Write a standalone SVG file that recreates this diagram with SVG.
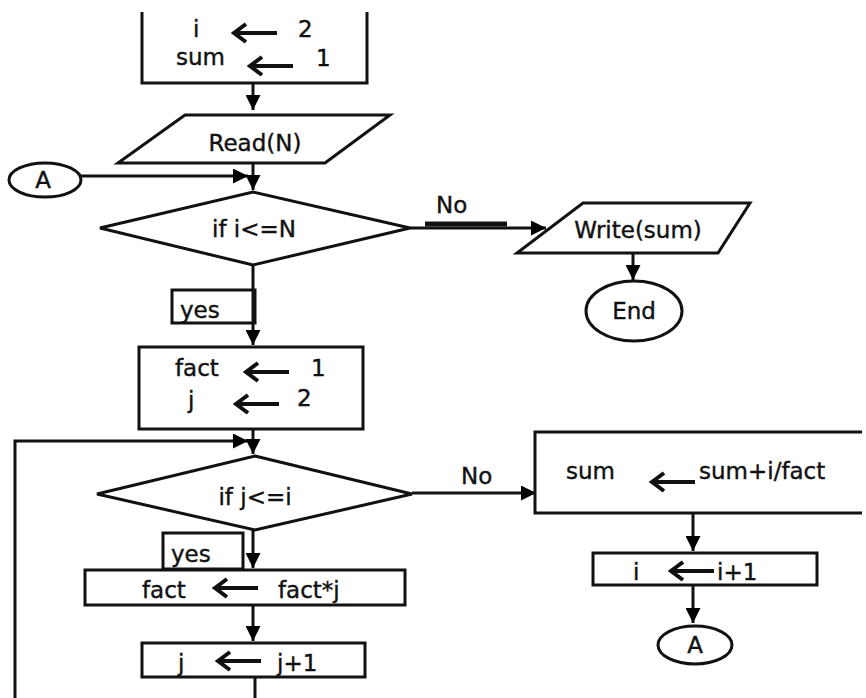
<svg xmlns="http://www.w3.org/2000/svg" width="866" height="698" viewBox="0 0 866 698">
<defs>
<marker id="ah" viewBox="0 0 10 10" refX="10" refY="5" markerWidth="5" markerHeight="5" orient="auto" markerUnits="strokeWidth">
<path d="M0,0 L10,5 L0,10 z" fill="#000"/>
</marker>
<style>
.s{fill:#fff;stroke:#111;stroke-width:3}
.c{fill:none;stroke:#111;stroke-width:3}
.t{font-family:"DejaVu Sans",sans-serif;font-size:23px;fill:#111;stroke:#111;stroke-width:0.4}
.m{text-anchor:middle}
.ar{fill:none;stroke:#111;stroke-width:4;stroke-linejoin:miter}
</style>
</defs>
<rect width="866" height="698" fill="#fff"/>
<g id="connectors">
<path class="c" d="M253,83 V110" marker-end="url(#ah)"/>
<path class="c" d="M80,176 H248" marker-end="url(#ah)"/>
<path class="c" d="M253,163 V190" marker-end="url(#ah)"/>
<path class="c" d="M410,228 H546" marker-end="url(#ah)"/>
<path class="s" style="stroke-width:5" d="M425,224 H507"/>
<path class="c" d="M633,254 V280" marker-end="url(#ah)"/>
<path class="c" d="M253,265 V345" marker-end="url(#ah)"/>
<path class="c" d="M253,429 V454" marker-end="url(#ah)"/>
<path class="c" d="M15,698 V441 H248" marker-end="url(#ah)"/>
<path class="c" d="M412,493 H536" marker-end="url(#ah)"/>
<path class="c" d="M253,530 V568" marker-end="url(#ah)"/>
<path class="c" d="M253,605 V641" marker-end="url(#ah)"/>
<path class="c" d="M255,677 V698"/>
<path class="c" d="M693,513 V551" marker-end="url(#ah)"/>
<path class="c" d="M693,585 V623" marker-end="url(#ah)"/>
</g>
<g id="init">
<path class="s" d="M142,12 V83 H367 V12"/>
<text class="t" x="193" y="37">i</text>
<path class="ar" d="M277,33 H234 M246,24 L234,33 L246,42"/>
<text class="t" x="298" y="37">2</text>
<text class="t" x="176" y="65">sum</text>
<path class="ar" d="M293,66 H250 M262,57 L250,66 L262,75"/>
<text class="t" x="316" y="66">1</text>
</g>
<g id="read">
<path class="s" d="M185,115 H390 L325,163 H118 Z"/>
<text class="t m" x="255" y="151">Read(N)</text>
</g>
<g id="connA1">
<ellipse class="s" cx="45" cy="180" rx="36" ry="17"/>
<text class="t m" x="43" y="188">A</text>
</g>
<g id="cond1">
<path class="s" d="M253,192 L410,228 L253,265 L100,228 Z"/>
<text class="t m" x="254" y="237">if  i&lt;=N</text>
<text class="t" x="436" y="213">No</text>
</g>
<g id="write">
<path class="s" d="M583,203 H750 L718,253 H517 Z"/>
<text class="t m" x="638" y="238">Write(sum)</text>
</g>
<g id="end">
<ellipse class="s" cx="634" cy="311" rx="48" ry="30"/>
<text class="t m" x="634" y="319">End</text>
</g>
<g id="yes1">
<rect class="s" x="172" y="290" width="83" height="33" style="fill:none"/>
<text class="t" x="180" y="318">yes</text>
</g>
<g id="initfact">
<rect class="s" x="139" y="347" width="224" height="82"/>
<text class="t" x="175" y="376">fact</text>
<path class="ar" d="M289,372 H246 M258,363 L246,372 L258,381"/>
<text class="t" x="311" y="376">1</text>
<text class="t" x="188" y="408">j</text>
<path class="ar" d="M279,404 H236 M248,395 L236,404 L248,413"/>
<text class="t" x="297" y="406">2</text>
</g>
<g id="cond2">
<path class="s" d="M255,456 L412,494 L255,530 L97,494 Z"/>
<text class="t m" x="255" y="505">if  j&lt;=i</text>
<text class="t" x="461" y="484">No</text>
</g>
<g id="sumbox">
<path class="s" d="M862,432 H535 V513 H862"/>
<text class="t" x="566" y="479">sum</text>
<path class="ar" d="M695,482 H652 M664,473 L652,482 L664,491"/>
<text class="t" x="699" y="479">sum+i/fact</text>
</g>
<g id="inci">
<rect class="s" x="593" y="553" width="224" height="32"/>
<text class="t" x="633" y="580">i</text>
<path class="ar" d="M714,571 H671 M683,562 L671,571 L683,580"/>
<text class="t" x="717" y="580">i+1</text>
</g>
<g id="connA2">
<ellipse class="s" cx="695" cy="645" rx="37" ry="19"/>
<text class="t m" x="695" y="653">A</text>
</g>
<g id="yes2">
<rect class="s" x="163" y="533" width="80" height="36"/>
<text class="t" x="171" y="562">yes</text>
</g>
<g id="mulfact">
<rect class="s" x="85" y="570" width="320" height="35"/>
<text class="t" x="142" y="598">fact</text>
<path class="ar" d="M258,588 H215 M227,579 L215,588 L227,597"/>
<text class="t" x="278" y="598">fact*j</text>
</g>
<g id="incj">
<rect class="s" x="142" y="643" width="223" height="34"/>
<text class="t" x="178" y="671">j</text>
<path class="ar" d="M261,661 H218 M230,652 L218,661 L230,670"/>
<text class="t" x="277" y="671">j+1</text>
</g>
</svg>
